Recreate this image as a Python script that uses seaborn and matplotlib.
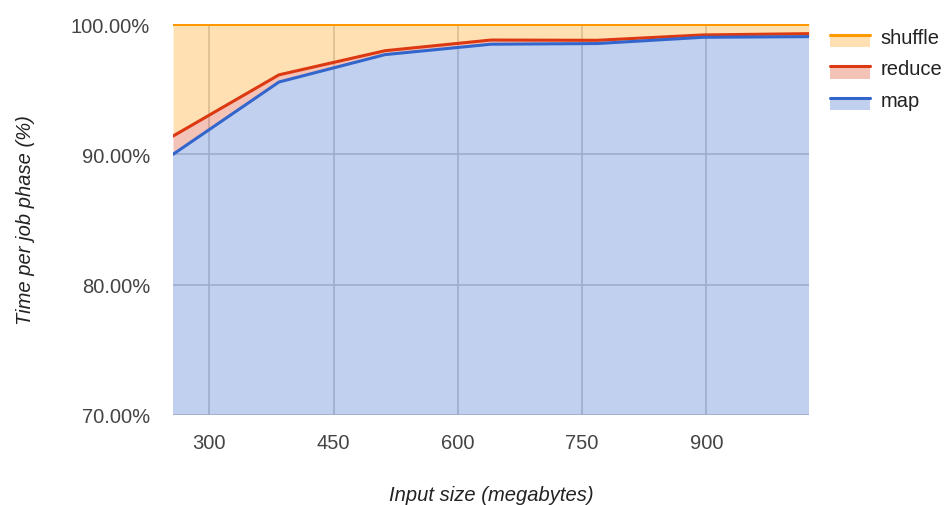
import numpy as np
import pandas as pd
import matplotlib
matplotlib.use("Agg")
import matplotlib.pyplot as plt
import seaborn as sns
from matplotlib.legend_handler import HandlerBase
from matplotlib.patches import Rectangle
from matplotlib.lines import Line2D

# ---- data ----
input_size = [256, 384, 512, 640, 768, 896, 1024]
map_pct = [90.0, 95.55, 97.65, 98.45, 98.5, 98.98, 99.03]
reduce_pct = [1.4, 0.55, 0.3, 0.32, 0.25, 0.18, 0.23]
shuffle_pct = [8.6, 3.9, 2.05, 1.23, 1.25, 0.84, 0.74]
series_names = ["shuffle", "reduce", "map"]
x_ticks = [300, 450, 600, 750, 900]
y_ticks = [70, 80, 90, 100]

colors = {"map": "#3366cc", "reduce": "#dc3912", "shuffle": "#ff9900"}

sns.set_theme(style="white")
plt.rcParams["font.family"] = ["Liberation Sans", "DejaVu Sans"]

FS = 14.5

df = pd.DataFrame({"size": input_size, "map": map_pct,
                   "reduce": reduce_pct, "shuffle": shuffle_pct})
df["c_map"] = df["map"]
df["c_reduce"] = df["c_map"] + df["reduce"]
df["c_shuffle"] = df["c_reduce"] + df["shuffle"]

fig = plt.figure(figsize=(9.46, 5.06), dpi=100)
ax = fig.add_axes([173 / 946, 1 - 416 / 506, (809 - 173) / 946, (416 - 25) / 506])

# gridlines below fills
for xv in x_ticks:
    ax.axvline(xv, color="#cccccc", lw=1.2, zorder=0)
for yv in y_ticks:
    ax.axhline(yv, color="#cccccc", lw=1.2, zorder=0)

lower = np.full(len(df), 0.0)
for name, col in [("map", "c_map"), ("reduce", "c_reduce"), ("shuffle", "c_shuffle")]:
    ax.fill_between(df["size"], lower, df[col], color=colors[name], alpha=0.3,
                    lw=0, zorder=1)
    lower = df[col].values
for name, col in [("shuffle", "c_shuffle"), ("reduce", "c_reduce"), ("map", "c_map")]:
    sns.lineplot(data=df, x="size", y=col, ax=ax, color=colors[name], lw=2.2,
                 zorder=3, legend=False)

ax.set_xlim(256, 1024)
ax.set_ylim(70, 100)
ax.set_xticks(x_ticks)
ax.set_xticklabels([str(v) for v in x_ticks])
ax.set_yticks(y_ticks)
ax.set_yticklabels([f"{v:.2f}%" for v in y_ticks])
ax.tick_params(axis="both", length=0, labelsize=FS, colors="#444444")
ax.tick_params(axis="x", pad=13)
ax.tick_params(axis="y", pad=16.5)
for s in ax.spines.values():
    s.set_visible(False)
ax.set_xlabel("Input size (megabytes)", fontsize=FS, style="italic",
              color="#222222", labelpad=24)
ax.set_ylabel("Time per job phase (%)", fontsize=FS, style="italic",
              color="#222222", labelpad=26)


class AreaHandler(HandlerBase):
    def __init__(self, color):
        super().__init__()
        self.color = color

    def create_artists(self, legend, orig_handle, xdescent, ydescent, width,
                       height, fontsize, trans):
        y0 = -ydescent - 0.4 * height
        top = -ydescent + 0.6 * height
        rect = Rectangle((-xdescent, y0), width, top - y0, facecolor=self.color,
                         alpha=0.3, edgecolor="none", transform=trans)
        line = Line2D([-xdescent, -xdescent + width], [top, top],
                      color=self.color, lw=2.2, transform=trans)
        return [rect, line]


handles = [Line2D([], [], color=colors[n]) for n in series_names]
hmap = {h: AreaHandler(colors[n]) for h, n in zip(handles, series_names)}
leg = fig.legend(handles, series_names, handler_map=hmap, loc="upper left",
                 bbox_to_anchor=(830 / 946, 1 - 29 / 506), frameon=False,
                 fontsize=FS, handlelength=2.0, handleheight=0.6,
                 labelspacing=0.62, handletextpad=0.5, borderpad=0,
                 borderaxespad=0)
for t in leg.get_texts():
    t.set_color("#222222")

fig.savefig("out.png", dpi=100)
